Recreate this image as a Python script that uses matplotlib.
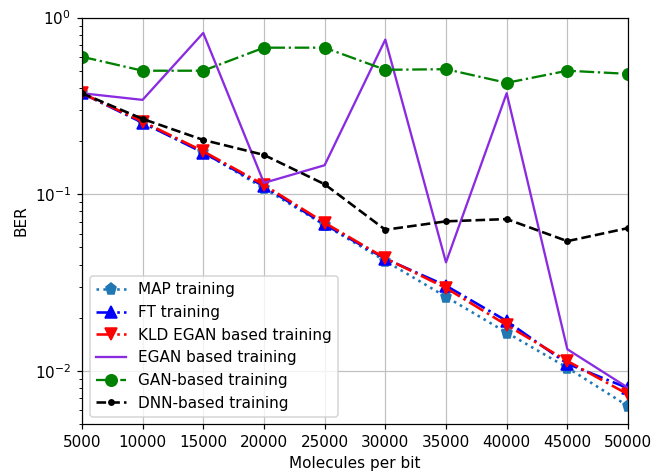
import numpy as np
import matplotlib
matplotlib.use('Agg')
import matplotlib.pyplot as plt

# molecules per bit
mpb = [5000, 10000, 15000, 20000, 25000, 30000, 35000, 40000, 45000, 50000]

ber_map = [0.373, 0.255, 0.173, 0.108, 0.067, 0.042, 0.0263, 0.0165, 0.01045, 0.00633]
ber_ft = [0.373, 0.254, 0.172, 0.111, 0.0675, 0.0432, 0.0304, 0.0192, 0.0110, 0.0080]
ber_kld = [0.373, 0.258, 0.175, 0.113, 0.0690, 0.0435, 0.0295, 0.0182, 0.0114, 0.00738]
ber_egan = [0.373, 0.342, 0.818, 0.116, 0.146, 0.75, 0.0412, 0.373, 0.01328, 0.00804]
ber_gan = [0.60, 0.50, 0.50, 0.675, 0.675, 0.506, 0.51, 0.427, 0.50, 0.48]
ber_dnn = [0.373, 0.267, 0.203, 0.167, 0.114, 0.063, 0.0703, 0.0724, 0.0543, 0.0644]

fig, ax = plt.subplots(figsize=(671 / 110, 473 / 110), dpi=110)
fig.subplots_adjust(left=0.122, right=0.936, top=0.963, bottom=0.103)

ax.semilogy(mpb, ber_map, ':', color='tab:blue', marker='p', markersize=7.5, lw=1.7, label='MAP training')
ax.semilogy(mpb, ber_ft, '-.', color='blue', marker='^', markersize=7.5, lw=1.7, label='FT training')
ax.semilogy(mpb, ber_kld, '-.', color='red', marker='v', markersize=7.5, lw=1.7, label='KLD EGAN based training')
ax.semilogy(mpb, ber_egan, '-', color='blueviolet', lw=1.5, label='EGAN based training')
ax.semilogy(mpb, ber_gan, '-.', color='green', marker='o', markersize=7.5, lw=1.5, label='GAN-based training')
ax.semilogy(mpb, ber_dnn, '--', color='black', marker='o', markersize=3.5, lw=1.7, label='DNN-based training')

ax.set_xlim(5000, 50000)
ax.set_ylim(0.005, 1)
ax.set_xticks(mpb)
ax.grid(True, color='#c0c0c0')
ax.set_xlabel('Molecules per bit')
ax.set_ylabel('BER')
ax.legend(loc='lower left')

plt.savefig('out.png', dpi=110)
